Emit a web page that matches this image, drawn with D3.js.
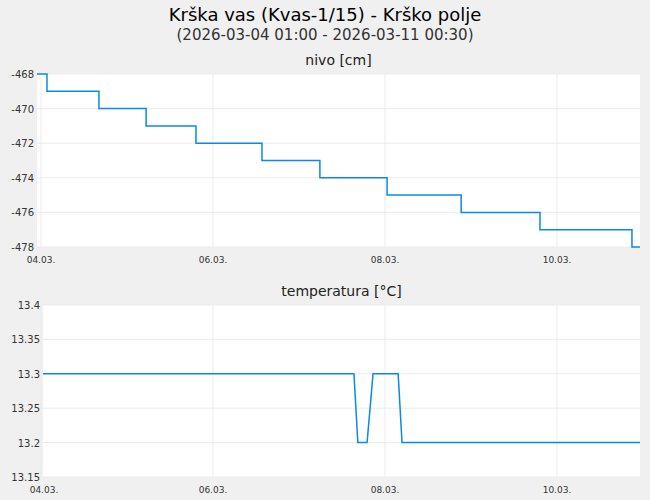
<!DOCTYPE html>
<html><head><meta charset="utf-8">
<script src="https://cdn.jsdelivr.net/npm/d3@7"></script>
<style>body{margin:0;background:#f0f0f0;font-family:"DejaVu Sans",sans-serif}</style>
</head><body>
<svg id="chart" width="650" height="500"></svg>
<script>
// nivo [cm] - step points
const levelTimes = ["2026-03-03T22:50","2026-03-04T01:40","2026-03-04T16:10","2026-03-05T05:20","2026-03-05T19:15","2026-03-06T13:40","2026-03-07T05:50","2026-03-08T00:35","2026-03-08T21:15","2026-03-09T19:15","2026-03-10T20:55","2026-03-11T00:30"];
const levelValues = [-468,-469,-470,-471,-472,-473,-474,-475,-476,-477,-478,-478];
// temperatura [°C]
const tempTimes = ["2026-03-04T00:30","2026-03-07T15:20","2026-03-07T16:25","2026-03-07T19:00","2026-03-07T20:40","2026-03-08T03:40","2026-03-08T04:45","2026-03-11T00:30"];
const tempValues = [13.3,13.3,13.2,13.2,13.3,13.3,13.2,13.2];
const levelTicks = [-468,-470,-472,-474,-476,-478];
const tempTicks = [13.15,13.2,13.25,13.3,13.35,13.4];
const dateTicks = ["2026-03-04","2026-03-06","2026-03-08","2026-03-10"];

const parse = d3.timeParse("%Y-%m-%dT%H:%M");
const parseDay = d3.timeParse("%Y-%m-%d");
const svg = d3.select("#chart");
const color = "#0a8ae6";

svg.append("text").attr("x",325).attr("y",21).attr("text-anchor","middle")
  .style("font-size","18px").text("Krška vas (Kvas-1/15) - Krško polje");
svg.append("text").attr("x",325).attr("y",40).attr("text-anchor","middle")
  .style("font-size","15px").style("fill","#333").text("(2026-03-04 01:00 - 2026-03-11 00:30)");

// shared time mapping: 04.03 00:00 at x=41, 86 px per day
const day0 = parseDay("2026-03-04");
const xFull = d3.scaleTime().domain([day0, d3.timeDay.offset(day0,7)]).range([41, 41+86*7]);

function panel(opts) {
  const {left, top, right, bottom, yDomain, yTicks, times, values, title, step, fmt} = opts;
  const x = d3.scaleTime().domain([xFull.invert(left), xFull.invert(right)]).range([left, right]);
  const y = d3.scaleLinear().domain(yDomain).range([bottom, top]);
  svg.append("rect").attr("x",left).attr("y",top).attr("width",right-left).attr("height",bottom-top).attr("fill","#fff");
  svg.append("text").attr("x",(left+right)/2).attr("y",top-9).attr("text-anchor","middle")
    .style("font-size","14px").style("fill","#222").text(title);
  const g = svg.append("g");
  g.selectAll(".hg").data(yTicks).enter().append("line")
    .attr("x1",left).attr("x2",right).attr("y1",d=>y(d)).attr("y2",d=>y(d)).attr("stroke","#ebebeb");
  g.selectAll(".vg").data(dateTicks).enter().append("line")
    .attr("x1",d=>x(parseDay(d))).attr("x2",d=>x(parseDay(d))).attr("y1",top).attr("y2",bottom).attr("stroke","#ebebeb");
  g.selectAll(".yl").data(yTicks).enter().append("text")
    .attr("x",left-3).attr("y",d=>y(d)+4).attr("text-anchor","end")
    .style("font-size","10px").style("fill","#333").text(fmt);
  g.selectAll(".xl").data(dateTicks).enter().append("text")
    .attr("x",d=>Math.max(x(parseDay(d)), left+1)).attr("y",bottom+16).attr("text-anchor","middle")
    .style("font-size","9px").style("fill","#333").text(d=>d3.timeFormat("%d.%m.")(parseDay(d)));
  const pts = times.map((t,i)=>[parse(t), values[i]]);
  const clipId = "c"+top;
  svg.append("clipPath").attr("id",clipId).append("rect").attr("x",left).attr("y",top-2).attr("width",right-left).attr("height",bottom-top+4);
  svg.append("path").datum(pts).attr("clip-path",`url(#${clipId})`)
    .attr("fill","none").attr("stroke",color).attr("stroke-width",1.5)
    .attr("d", d3.line().x(d=>x(d[0])).y(d=>y(d[1])).curve(step ? d3.curveStepAfter : d3.curveLinear));
}

panel({left:37, top:74, right:640, bottom:247, yDomain:[-478,-468], yTicks:levelTicks,
  times:levelTimes, values:levelValues, title:"nivo [cm]", step:true, fmt:d=>d});
panel({left:43, top:305, right:640, bottom:477, yDomain:[13.15,13.4], yTicks:tempTicks,
  times:tempTimes, values:tempValues, title:"temperatura [°C]", step:false, fmt:d=>d3.format("")(d)});
</script>
</body></html>
